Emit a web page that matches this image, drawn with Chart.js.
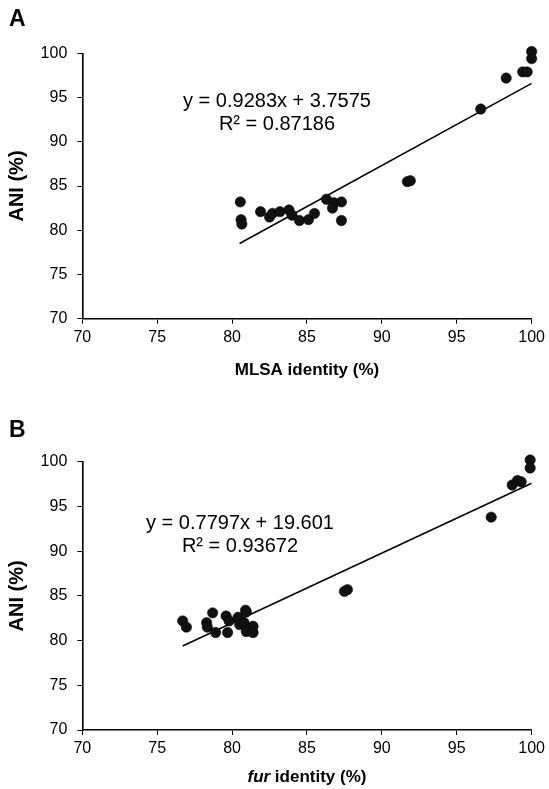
<!DOCTYPE html>
<html>
<head>
<meta charset="utf-8">
<script src="https://cdn.jsdelivr.net/npm/chart.js@4.4.1/dist/chart.umd.min.js"></script>
<style>
  html,body{margin:0;padding:0;background:#fff;}
  body{width:549px;height:789px;position:relative;overflow:hidden;}
  .wrap{position:absolute;left:0;width:549px;}
  #wa{top:0;height:395px;}
  #wb{top:395px;height:394px;}
  canvas{display:block;}
</style>
</head>
<body>
<div class="wrap" id="wa"><canvas id="ca" width="549" height="395"></canvas></div>
<div class="wrap" id="wb"><canvas id="cb" width="549" height="394"></canvas></div>
<script>
// ---- Panel A data: MLSA identity vs ANI ----
const mlsaX = [80.55, 80.6, 80.65, 81.9, 82.5, 82.7, 83.2, 83.8, 84.0, 84.5, 85.1, 85.5, 86.3, 86.8, 86.7, 87.3, 87.3,
               91.7, 91.9, 96.6, 98.3, 99.4, 99.7, 100.0, 100.0];
const mlsaANI = [83.2, 81.2, 80.7, 82.1, 81.5, 81.9, 82.1, 82.3, 81.7, 81.1, 81.2, 81.9, 83.5, 83.1, 82.5, 83.2, 81.1,
                 85.5, 85.6, 93.7, 97.2, 97.9, 97.9, 100.2, 99.4];
const trendAX = [80.5, 100];
const trendAY = [78.5, 96.6];
const eqA = ["y = 0.9283x + 3.7575", "R\u00B2 = 0.87186"];

// ---- Panel B data: fur identity vs ANI ----
const furX = [76.7, 76.95, 78.7, 78.3, 78.35, 78.9, 79.6, 79.8, 79.7, 80.4, 80.5, 80.9, 80.95, 80.8, 80.95, 81.4, 81.4,
              87.5, 87.7, 97.3, 99.9, 99.9, 98.7, 99.05, 99.3];
const furANI = [82.2, 81.5, 83.1, 82.0, 81.5, 80.9, 82.75, 82.2, 80.9, 82.6, 81.8, 83.4, 83.2, 82.0, 81.0, 81.6, 80.9,
                85.5, 85.7, 93.8, 100.2, 99.3, 97.4, 97.9, 97.75];
const trendBX = [76.7, 100];
const trendBY = [79.4, 97.6];
const eqB = ["y = 0.7797x + 19.601", "R\u00B2 = 0.93672"];

const axisTicks = [70, 75, 80, 85, 90, 95, 100];

const FONT = 'Arial, "Liberation Sans", sans-serif';

function pts(xs, ys){ return xs.map((x,i)=>({x:x, y:ys[i]})); }

function makeChart(canvasId, cfg){
  const textPlugin = {
    id: 'txt_'+canvasId,
    afterDraw(chart){
      const ctx = chart.ctx;
      ctx.save();
      ctx.fillStyle = '#000';
      ctx.textBaseline = 'middle';
      // panel letter
      ctx.font = 'bold 23px ' + FONT;
      ctx.textAlign = 'left';
      ctx.fillText(cfg.letter, 9, cfg.letterY);
      // equation
      ctx.font = '20px ' + FONT;
      ctx.textAlign = 'center';
      ctx.fillText(cfg.eq[0], cfg.eqX, cfg.eqY);
      ctx.fillText(cfg.eq[1], cfg.eqX, cfg.eqY + 23);
      // x title (mixed style for B)
      if (cfg.xTitleParts){
        let total = 0;
        const parts = cfg.xTitleParts.map(p => { ctx.font = p.font; const w = ctx.measureText(p.text).width; total += w; return {p, w}; });
        const cx = (chart.chartArea.left + chart.chartArea.right)/2;
        let x = cx - total/2;
        ctx.textAlign = 'left';
        parts.forEach(({p,w}) => { ctx.font = p.font; ctx.fillText(p.text, x, cfg.xTitleY); x += w; });
      }
      ctx.restore();
    }
  };
  return new Chart(document.getElementById(canvasId), {
    type: 'scatter',
    data: {
      datasets: [
        { type:'line', data: pts(cfg.tx, cfg.ty), borderColor:'#000', borderWidth:1.6, pointRadius:0, fill:false, order:2 },
        { data: pts(cfg.xs, cfg.ys), backgroundColor:'#111', borderColor:'rgba(0,0,0,0.5)', borderWidth:1, pointRadius:5.2, pointHoverRadius:5.2, order:1, clip:false }
      ]
    },
    options: {
      responsive:false, animation:false,
      plugins:{ legend:{display:false}, tooltip:{enabled:false} },
      layout:{ padding:{ top:cfg.padTop, right:16.3, left:0, bottom:0 } },
      scales:{
        x:{
          type:'linear', min:70, max:100,
          afterBuildTicks: s => { s.ticks = axisTicks.map(v=>({value:v})); },
          afterFit: s => { s.height = cfg.xAxisH; },
          grid:{ display:true, drawOnChartArea:false, drawTicks:true, tickLength:5, color:'#000', lineWidth:1 },
          border:{ display:true, color:'#000', width:1.6 },
          ticks:{ color:'#000', font:{ family:FONT, size:16 }, padding:4, maxRotation:0 },
          title:{ display: !!cfg.xTitle, text: cfg.xTitle || '', color:'#000', font:{family:FONT, size:17, weight:'bold'}, padding:{top:0, bottom:cfg.xTitlePadB} }
        },
        y:{
          type:'linear', min:70, max:100,
          afterBuildTicks: s => { s.ticks = axisTicks.map(v=>({value:v})); },
          afterFit: s => { s.width = 82.3; },
          grid:{ display:true, drawOnChartArea:false, drawTicks:true, tickLength:5, color:'#000', lineWidth:1 },
          border:{ display:true, color:'#000', width:1.6 },
          ticks:{ color:'#000', font:{ family:FONT, size:16 }, padding:10 },
          title:{ display:true, text:'ANI (%)', color:'#000', font:{family:FONT, size:20, weight:'bold'}, padding:{top:5, bottom:0} }
        }
      }
    },
    plugins:[textPlugin]
  });
}

makeChart('ca', {
  xs: mlsaX, ys: mlsaANI, tx: trendAX, ty: trendAY, eq: eqA,
  padTop: 53.3, xAxisH: 395 - 318.7,
  xTitle: 'MLSA identity (%)', xTitlePadB: 14.8,
  letter: 'A', letterY: 20, eqX: 277, eqY: 101
});

makeChart('cb', {
  xs: furX, ys: furANI, tx: trendBX, ty: trendBY, eq: eqB,
  padTop: 66.7, xAxisH: 394 - 335,
  xTitle: null, xTitlePadB: 0,
  xTitleParts: [
    { text:'fur', font:'italic bold 17px ' + FONT },
    { text:' identity (%)', font:'bold 17px ' + FONT }
  ],
  xTitleY: 382,
  letter: 'B', letterY: 431 - 395, eqX: 240, eqY: 523 - 395
});
</script>
</body>
</html>
